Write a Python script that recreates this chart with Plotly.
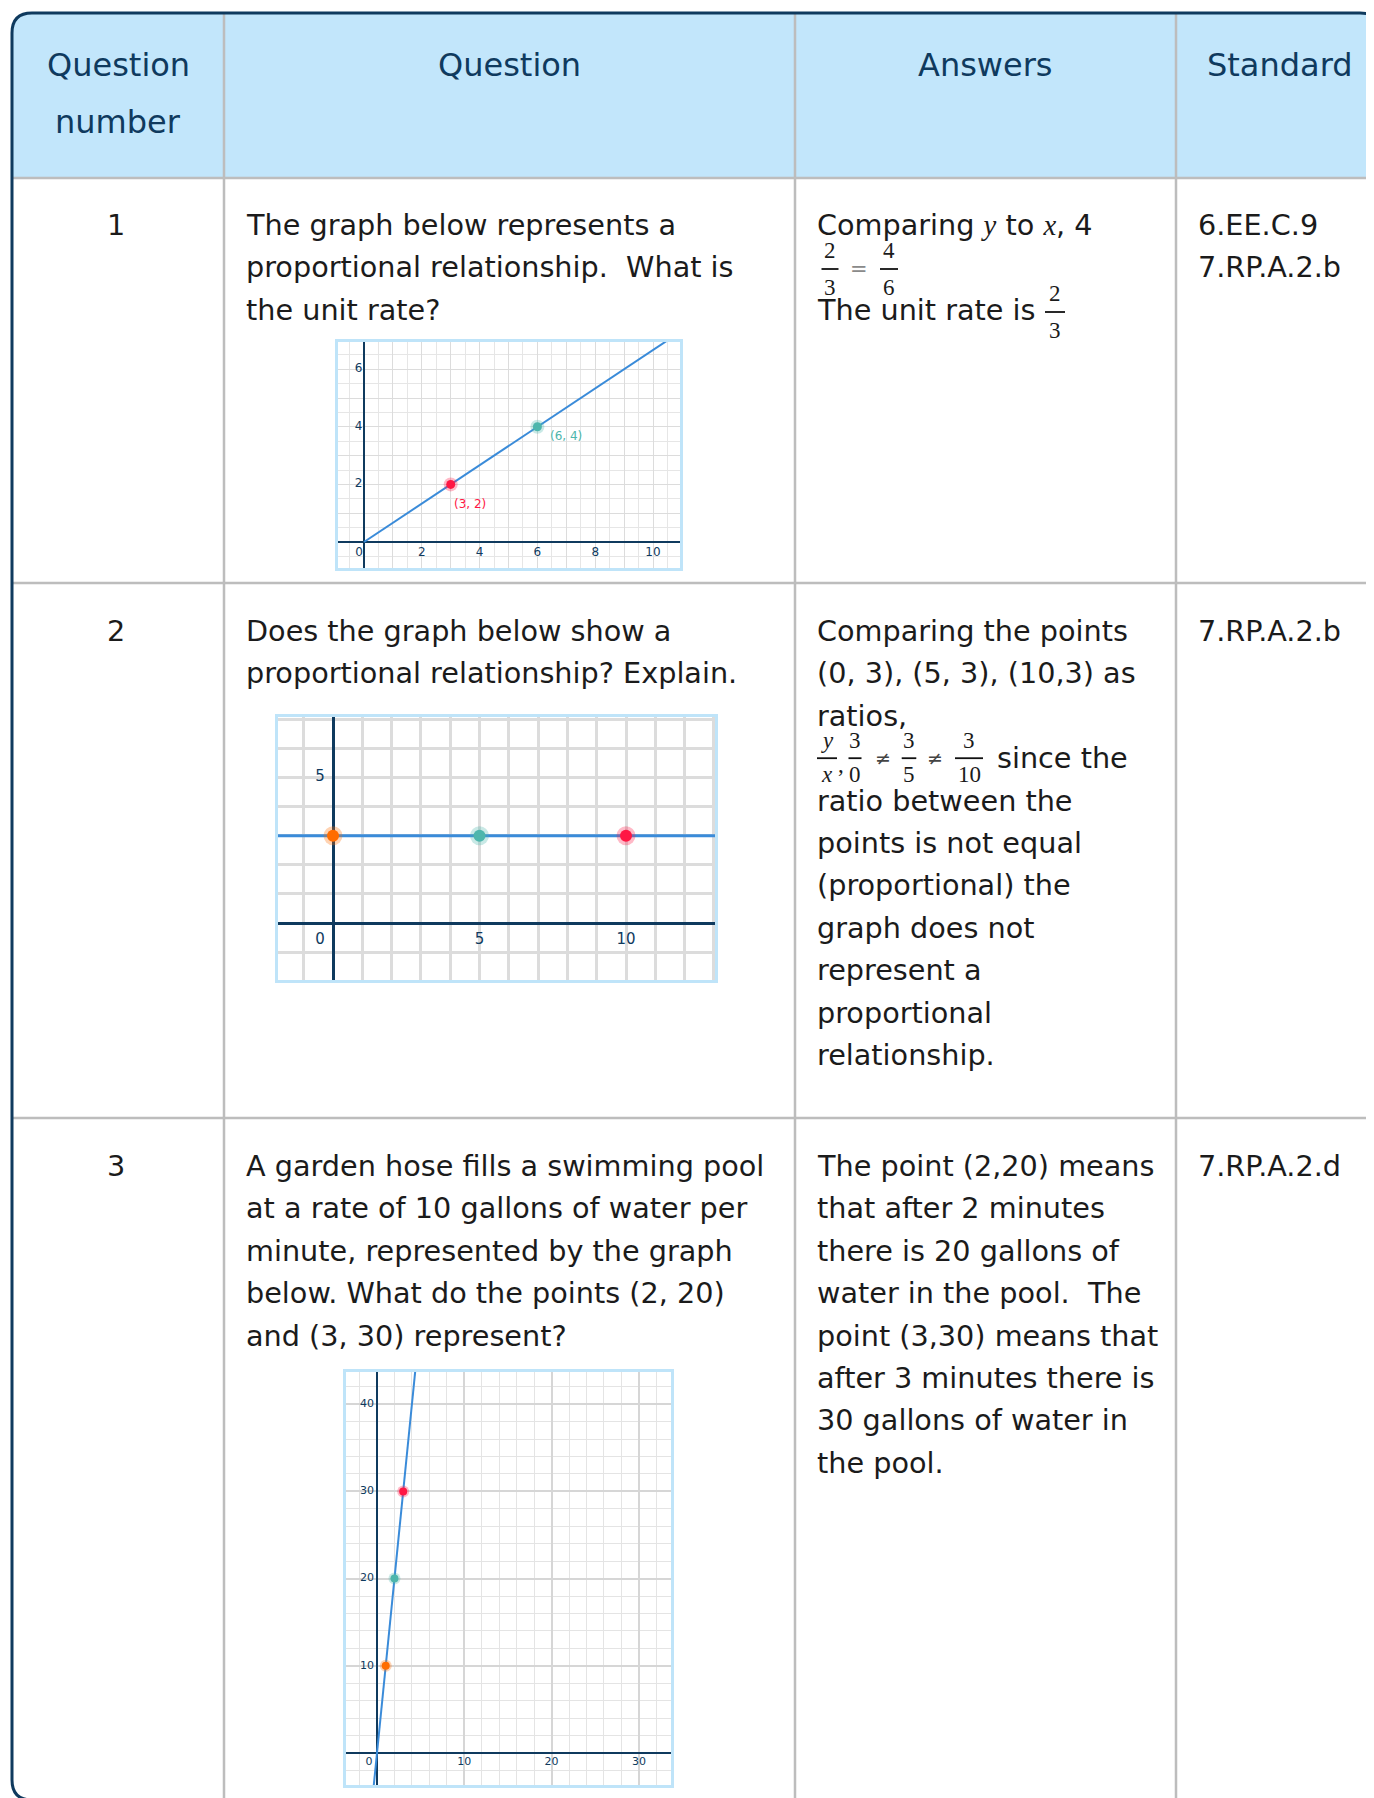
import plotly.graph_objects as go

W, H = 1374, 1798
OFF = 8  # page body margin, positions below are screen pixels

# ---------------- table content ----------------
header_labels = ["Question", "Question", "Answers", "Standard"]
header_label_2 = "number"
question_numbers = ["1", "2", "3"]
question_lines = [
    ["The graph below represents a",
     "proportional relationship.\u00a0 What is",
     "the unit rate?"],
    ["Does the graph below show a",
     "proportional relationship? Explain."],
    ["A garden hose fills a swimming pool",
     "at a rate of 10 gallons of water per",
     "minute, represented by the graph",
     "below. What do the points (2, 20)",
     "and (3, 30) represent?"],
]
answer2_lines_top = ["Comparing the points", "(0, 3), (5, 3), (10,3) as", "ratios,"]
answer2_lines_bottom = ["ratio between the", "points is not equal", "(proportional) the",
                        "graph does not", "represent a", "proportional", "relationship."]
answer3_lines = ["The point (2,20) means", "that after 2 minutes", "there is 20 gallons of",
                 "water in the pool.\u00a0 The", "point (3,30) means that",
                 "after 3 minutes there is", "30 gallons of water in", "the pool."]
standards = [["6.EE.C.9", "7.RP.A.2.b"], ["7.RP.A.2.b"], ["7.RP.A.2.d"]]

# ---------------- graph data ----------------
g1_line_x = [0, 3, 6, 10.5]
g1_line_y = [0, 2, 4, 7]
g1_pts_x = [3, 6]
g1_pts_y = [2, 4]
g1_pts_text = ["(3, 2)", "(6, 4)"]
g1_xticks = [2, 4, 6, 8, 10]
g1_yticks = [2, 4, 6]

g2_line_x = [-2, 13.2]
g2_line_y = [3, 3]
g2_pts_x = [0, 5, 10]
g2_pts_y = [3, 3, 3]
g2_xticks = [5, 10]
g2_yticks = [5]

g3_line_x = [-0.4, 4.4]
g3_line_y = [-4, 44]
g3_pts_x = [1, 2, 3]
g3_pts_y = [10, 20, 30]
g3_xticks = [10, 20, 30]
g3_yticks = [10, 20, 30, 40]

# ---------------- styles ----------------
NAVY = "#0f3a5e"
TEXT = "#1b1b1b"
HEAD_BG = "#c2e6fb"
GRAY_LINE = "#bdbdbd"
BOX_BLUE = "#bfe4f9"
BLUE = "#3a8bd9"
RED = "#ff1744"
TEAL = "#4db6ac"
ORANGE = "#ff6d00"
BODY_FONT = "DejaVu Sans"
SERIF = "Liberation Serif"
TICK_FONT = "DejaVu Sans"
FS = 28.7
HFS = 32
LH = 42.4

fig = go.Figure()
annotations = []
shapes = []


def txt(x, y, s, size=FS, color=TEXT, anchor="left", family=BODY_FONT):
    annotations.append(dict(x=x, y=y, xref="x", yref="y", text=s, showarrow=False,
                            xanchor=anchor, yanchor="middle",
                            font=dict(size=size, color=color, family=family)))


def line(x0, y0, x1, y1, color, width):
    shapes.append(dict(type="line", xref="x", yref="y", x0=x0, y0=y0, x1=x1, y1=y1,
                       line=dict(color=color, width=width), layer="above"))


def frac(xc, ybar, num, den, hw, size=23, up=19, down=18):
    txt(xc, ybar - up, num, size=size, anchor="center", family=SERIF)
    txt(xc, ybar + down, den, size=size, anchor="center", family=SERIF)
    line(xc - hw, ybar, xc + hw, ybar, "#111111", 1.8)


# table frame
L, T, R, B, RAD = 12, 13, 1380, 1800, 20
shapes.append(dict(type="path", xref="x", yref="y", layer="below",
                   path=f"M {L},{T+RAD} Q {L},{T} {L+RAD},{T} L {R-RAD},{T} Q {R},{T} {R},{T+RAD} "
                        f"L {R},178 L {L},178 Z",
                   fillcolor=HEAD_BG, line=dict(width=0)))
col_x = [224, 795, 1176]
row_y = [178, 583, 1118]
for cx in col_x:
    line(cx, T, cx, B, GRAY_LINE, 2.5)
for ry in row_y:
    line(L, ry, R, ry, GRAY_LINE, 2.5)
shapes.append(dict(type="path", xref="x", yref="y", layer="above",
                   path=f"M {L},{T+RAD} Q {L},{T} {L+RAD},{T} L {R-RAD},{T} Q {R},{T} {R},{T+RAD} "
                        f"L {R},{B-RAD} Q {R},{B} {R-RAD},{B} L {L+RAD},{B} Q {L},{B} {L},{B-RAD} Z",
                   line=dict(color=NAVY, width=3)))

# header
head_cx = [118, 509, 985, 1280]
for cx, lab in zip(head_cx, header_labels):
    txt(cx, 65, lab, size=HFS, color=NAVY, anchor="center")
txt(head_cx[0], 122, header_label_2, size=HFS, color=NAVY, anchor="center")

# rows
row_top = [225, 631, 1166]
for i in range(3):
    txt(116, row_top[i], question_numbers[i], anchor="center")
    for k, s in enumerate(question_lines[i]):
        txt(244, row_top[i] + k * LH, s)
    for k, s in enumerate(standards[i]):
        txt(1196, row_top[i] + k * LH, s)

# answer 1
mi = lambda c: f'<span style="font-family:{SERIF}"><i>{c}</i></span>'
txt(815, 225, f"Comparing {mi('y')} to {mi('x')}, 4")
frac(830, 269, "2", "3", 8.5)
txt(859, 269, "=", size=21, color="#8a8a8a", anchor="center", family="DejaVu Sans")
frac(889, 269, "4", "6", 9)
txt(815, 310, "The unit rate is")
frac(1055, 312, "2", "3", 10)

# answer 2
for k, s in enumerate(answer2_lines_top):
    txt(815, row_top[1] + k * LH, s)
fy = row_top[1] + 3 * LH
frac(827, fy, "<i>y</i>", "<i>x</i>", 10, up=18, down=16)
txt(841, fy + 6, ",", size=23, anchor="center", family=SERIF)
frac(855, fy, "3", "0", 6.5, up=18, down=16)
txt(883, fy, "\u2260", size=19, color="#444444", anchor="center", family="DejaVu Sans")
frac(909, fy, "3", "5", 7.3, up=18, down=16)
txt(935, fy, "\u2260", size=19, color="#444444", anchor="center", family="DejaVu Sans")
frac(969, fy, "3", "10", 14, up=18, down=16)
txt(995, fy, "since the")
for k, s in enumerate(answer2_lines_bottom):
    txt(815, row_top[1] + (k + 4) * LH, s)

# answer 3
for k, s in enumerate(answer3_lines):
    txt(815, row_top[2] + k * LH, s)

# base invisible axes
fig.add_trace(go.Scatter(x=[None], y=[None], xaxis="x", yaxis="y", showlegend=False, hoverinfo="skip"))


# ---------------- graphs ----------------
def graph(n, box, zero_px, scale, dtick, minor, gwidth, gmajor_col, gminor_col, axw):
    bx0, by0, bx1, by1 = box
    ix0, iy0, ix1, iy1 = bx0 + 2, by0 + 2, bx1 - 2, by1 - 2
    zx, zy = zero_px
    sx, sy = scale
    xr = [(ix0 - zx) / sx, (ix1 - zx) / sx]
    yr = [(zy - iy1) / sy, (zy - iy0) / sy]
    common = dict(showticklabels=False, ticks="", showline=False, fixedrange=True,
                  gridcolor=gmajor_col, gridwidth=gwidth, zeroline=True,
                  zerolinecolor=NAVY, zerolinewidth=axw, tick0=0)
    xa = dict(common, domain=[(ix0 - OFF) / W, (ix1 - OFF) / W], range=xr, dtick=dtick[0],
              anchor=f"y{n}")
    ya = dict(common, domain=[1 - (iy1 - OFF) / H, 1 - (iy0 - OFF) / H], range=yr,
              dtick=dtick[1], anchor=f"x{n}")
    if minor:
        xa["minor"] = dict(dtick=minor[0], showgrid=True, gridcolor=gminor_col, gridwidth=1, ticks="")
        ya["minor"] = dict(dtick=minor[1], showgrid=True, gridcolor=gminor_col, gridwidth=1, ticks="")
    fig.layout[f"xaxis{n}"] = xa
    fig.layout[f"yaxis{n}"] = ya
    shapes.append(dict(type="rect", xref="x", yref="y", x0=bx0 + 1.5, y0=by0 + 1.5,
                       x1=bx1 - 1.5, y1=by1 - 1.5, line=dict(color=BOX_BLUE, width=3), layer="above"))
    return sx, sy


def dots(n, xs, ys, colors, size, halo):
    fig.add_trace(go.Scatter(x=xs, y=ys, mode="markers", xaxis=f"x{n}", yaxis=f"y{n}",
                             marker=dict(size=halo, color=colors, opacity=0.3),
                             showlegend=False, hoverinfo="skip"))
    fig.add_trace(go.Scatter(x=xs, y=ys, mode="markers", xaxis=f"x{n}", yaxis=f"y{n}",
                             marker=dict(size=size, color=colors),
                             showlegend=False, hoverinfo="skip"))


def ticklabels(n, sc, xt, yt, xdown, yleft, origin, size, ypos="middle left"):
    # offsets are given in screen pixels and turned into data units
    sx, sy = sc
    font = dict(size=size, color=NAVY, family=TICK_FONT)
    kw = dict(mode="text", xaxis=f"x{n}", yaxis=f"y{n}", textfont=font,
              showlegend=False, hoverinfo="skip", cliponaxis=False)
    fig.add_trace(go.Scatter(x=xt, y=[-xdown / sy] * len(xt), text=[str(v) for v in xt],
                             textposition="middle center", **kw))
    fig.add_trace(go.Scatter(x=[-yleft / sx] * len(yt), y=yt, text=[str(v) for v in yt],
                             textposition=ypos, **kw))
    fig.add_trace(go.Scatter(x=[-origin / sx], y=[-xdown / sy], text=["0"],
                             textposition="middle center", **kw))


# graph 1
sc1 = graph(2, (335, 339, 683, 571), (364, 542), (28.9, 28.8), (1, 1), (0.5, 0.5), 1,
            "#dcdcdc", "#e6e6e6", 2)
fig.add_trace(go.Scatter(x=g1_line_x, y=g1_line_y, mode="lines", xaxis="x2", yaxis="y2",
                         line=dict(color=BLUE, width=2), showlegend=False, hoverinfo="skip"))
dots(2, g1_pts_x, g1_pts_y, [RED, TEAL], 9, 14)
ticklabels(2, sc1, g1_xticks, g1_yticks, 11, 1.5, 5, 12)
for px_, py_, t, c, xs, ys in zip(g1_pts_x, g1_pts_y, g1_pts_text, [RED, TEAL], [1, 11], [-20, -9]):
    annotations.append(dict(x=px_, y=py_, xref="x2", yref="y2", text=t, showarrow=False,
                            xanchor="left", yanchor="middle", xshift=xs, yshift=ys,
                            font=dict(size=12, color=c, family=TICK_FONT)))

# graph 2
sc2 = graph(3, (275, 714, 718, 983), (333, 923), (29.3, 29.1), (1, 1), None, 2.5,
            "#dcdcdc", "#dcdcdc", 3)
fig.add_trace(go.Scatter(x=g2_line_x, y=g2_line_y, mode="lines", xaxis="x3", yaxis="y3",
                         line=dict(color=BLUE, width=3), showlegend=False, hoverinfo="skip"))
dots(3, g2_pts_x, g2_pts_y, [ORANGE, TEAL, RED], 12, 19)
ticklabels(3, sc2, g2_xticks, g2_yticks, 17, 13, 13, 15, ypos="middle center")

# graph 3
sc3 = graph(4, (343, 1369, 674, 1788), (377, 1753), (8.73, 8.72), (10, 10), (2, 2), 2,
            "#d6d6d6", "#e4e4e4", 2)
fig.add_trace(go.Scatter(x=g3_line_x, y=g3_line_y, mode="lines", xaxis="x4", yaxis="y4",
                         line=dict(color=BLUE, width=2), showlegend=False, hoverinfo="skip"))
dots(4, g3_pts_x, g3_pts_y, [ORANGE, TEAL, RED], 8, 12)
ticklabels(4, sc3, g3_xticks, g3_yticks, 9, 3, 8, 11)

fig.update_layout(
    width=W, height=H, autosize=False,
    margin=dict(l=0, r=0, t=0, b=0),
    paper_bgcolor="white", plot_bgcolor="white",
    xaxis=dict(domain=[0, 1], range=[OFF, W + OFF], visible=False, fixedrange=True),
    yaxis=dict(domain=[0, 1], range=[H + OFF, OFF], visible=False, fixedrange=True),
    annotations=annotations, shapes=shapes,
)

fig.write_html("out.html")
